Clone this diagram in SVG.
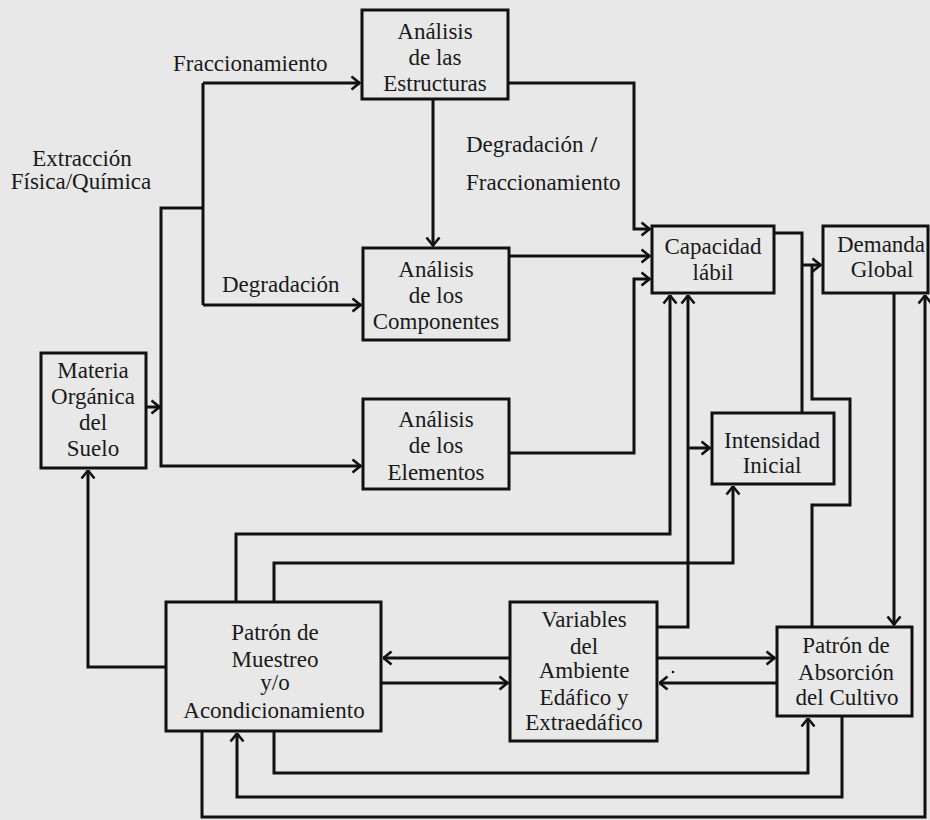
<svg xmlns="http://www.w3.org/2000/svg" width="930" height="820" viewBox="0 0 930 820">
<defs>
<style>
.bx{fill:none;stroke:#111;stroke-width:3}
.ln{fill:none;stroke:#111;stroke-width:3;stroke-linejoin:miter}
.ar{marker-end:url(#a)}
text{font-family:"Liberation Serif","Times New Roman",serif;font-size:23px;fill:#1a1a1a}
.c{text-anchor:middle}
</style>
<marker id="a" viewBox="0 0 10 16" refX="9.5" refY="8" markerWidth="10" markerHeight="16" markerUnits="userSpaceOnUse" orient="auto">
<path d="M1,1.5 L9,8 L1,14.5" fill="none" stroke="#111" stroke-width="2.6"/>
</marker>
</defs>
<rect width="930" height="820" fill="#e8e8e8"/>

<g id="connectors">
<path class="ln ar" d="M146,407 L160,407"/>
<path class="ln ar" d="M203,208 L161,208 L161,466 L361,466"/>
<path class="ln" d="M203,83 L203,305"/>
<path class="ln ar" d="M203,83 L360,83"/>
<path class="ln ar" d="M203,305 L361,305"/>
<path class="ln ar" d="M433,99 L433,246"/>
<path class="ln ar" d="M508,83 L634,83 L634,229 L650,229"/>
<path class="ln ar" d="M509,256 L650,256"/>
<path class="ln ar" d="M509,453 L634,453 L634,279 L650,279"/>
<path class="ln" d="M774,233 L802,233 L802,413"/>
<path class="ln ar" d="M802,265 L821,265"/>
<path class="ln" d="M812,265 L812,399 L850,399 L850,505 L812,505 L812,627"/>
<path class="ln ar" d="M894,293 L894,625"/>
<path class="ln ar" d="M236,602 L236,534 L670,534 L670,295"/>
<path class="ln ar" d="M274,602 L274,563 L733,563 L733,486"/>
<path class="ln ar" d="M657,627 L688,627 L688,295"/>
<path class="ln ar" d="M688,448 L710,448"/>
<path class="ln ar" d="M510,658 L383,658"/>
<path class="ln ar" d="M381,683 L508,683"/>
<path class="ln ar" d="M657,658 L775,658"/>
<path class="ln ar" d="M777,683 L659,683"/>
<path class="ln ar" d="M274,731 L274,773 L808,773 L808,718"/>
<path class="ln ar" d="M842,716 L842,797 L237,797 L237,733"/>
<path class="ln ar" d="M202,731 L202,817 L925,817 L925,295"/>
<path class="ln ar" d="M166,667 L88,667 L88,470"/>
<circle cx="673" cy="672" r="1.3" fill="#111"/>
</g>

<g id="labels">
<text x="173" y="71">Fraccionamiento</text>
<text x="82" y="166" class="c">Extracción</text>
<text x="81" y="189" class="c">Física/Química</text>
<text x="222" y="292">Degradación</text>
<text x="466" y="152">Degradación</text>
<text x="594" y="152" class="c" style="font-weight:bold">/</text>
<text x="466" y="190">Fraccionamiento</text>
</g>

<g id="n_estructuras">
<rect class="bx" x="362" y="10" width="146" height="89"/>
<text class="c" x="435" y="39">Análisis</text>
<text class="c" x="435" y="65">de las</text>
<text class="c" x="435" y="91">Estructuras</text>
</g>
<g id="n_componentes">
<rect class="bx" x="363" y="248" width="146" height="92"/>
<text class="c" x="436" y="277">Análisis</text>
<text class="c" x="436" y="303">de los</text>
<text class="c" x="436" y="329">Componentes</text>
</g>
<g id="n_elementos">
<rect class="bx" x="363" y="399" width="146" height="90"/>
<text class="c" x="436" y="427">Análisis</text>
<text class="c" x="436" y="453">de los</text>
<text class="c" x="436" y="480">Elementos</text>
</g>
<g id="n_materia">
<rect class="bx" x="41" y="353" width="105" height="115"/>
<text class="c" x="93" y="378">Materia</text>
<text class="c" x="93" y="404">Orgánica</text>
<text class="c" x="93" y="430">del</text>
<text class="c" x="93" y="456">Suelo</text>
</g>
<g id="n_capacidad">
<rect class="bx" x="652" y="226" width="122" height="67"/>
<text class="c" x="713" y="254">Capacidad</text>
<text class="c" x="713" y="280">lábil</text>
</g>
<g id="n_demanda">
<rect class="bx" x="823" y="226" width="105" height="67"/>
<text class="c" x="881" y="252">Demanda</text>
<text class="c" x="882" y="277">Global</text>
</g>
<g id="n_intensidad">
<rect class="bx" x="712" y="413" width="122" height="71"/>
<text class="c" x="772" y="448">Intensidad</text>
<text class="c" x="772" y="473">Inicial</text>
</g>
<g id="n_muestreo">
<rect class="bx" x="166" y="602" width="215" height="129"/>
<text class="c" x="275" y="640">Patrón de</text>
<text class="c" x="275" y="667">Muestreo</text>
<text class="c" x="275" y="690">y/o</text>
<text class="c" x="274" y="718">Acondicionamiento</text>
</g>
<g id="n_variables">
<rect class="bx" x="510" y="602" width="147" height="139"/>
<text class="c" x="584" y="627">Variables</text>
<text class="c" x="584" y="654">del</text>
<text class="c" x="584" y="678">Ambiente</text>
<text class="c" x="584" y="705">Edáfico y</text>
<text class="c" x="584" y="730">Extraedáfico</text>
</g>
<g id="n_absorcion">
<rect class="bx" x="777" y="627" width="135" height="89"/>
<text class="c" x="846" y="653">Patrón de</text>
<text class="c" x="846" y="680">Absorción</text>
<text class="c" x="847" y="705">del Cultivo</text>
</g>
</svg>
